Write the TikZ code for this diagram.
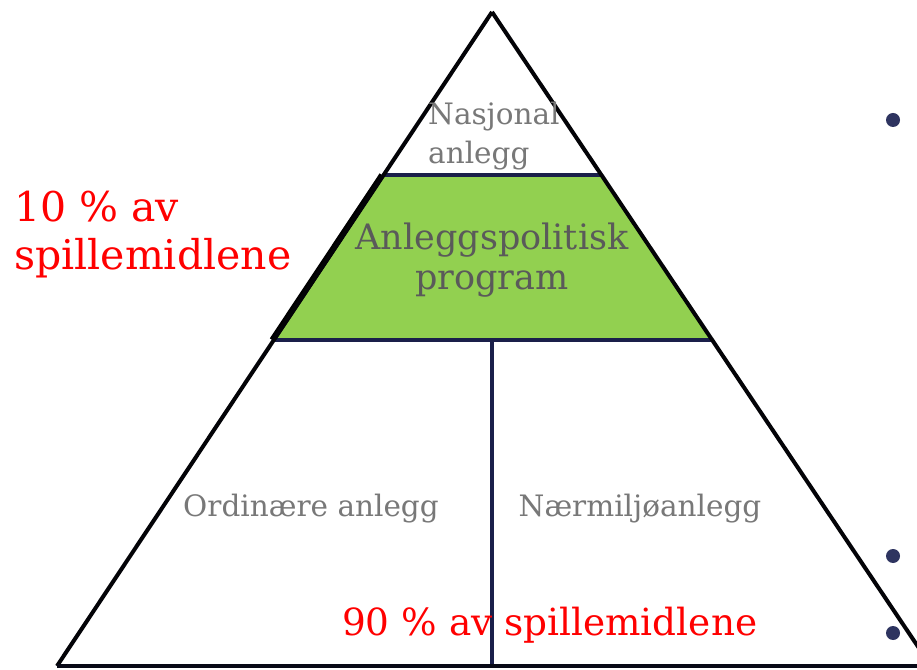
\documentclass[tikz,border=0pt]{standalone}
\usepackage{fontspec}
\setmainfont{DejaVu Serif}
\usetikzlibrary{calc}
\definecolor{navy}{HTML}{1A1F4A}
\definecolor{lvlgreen}{HTML}{92D050}
\definecolor{bulletc}{HTML}{2E3460}
\definecolor{graytxt}{HTML}{787878}
\definecolor{darkgraytxt}{HTML}{5A5A5A}
\tikzset{
  edge/.style={draw=black!90!navy, line width=4pt, line join=round},
  divider/.style={draw=navy, line width=4pt},
  lbl/.style={text=graytxt, inner sep=0pt},
  redlbl/.style={text=red, inner sep=0pt, anchor=base west},
  bulletdot/.style={circle, fill=bulletc, minimum size=14pt, inner sep=0pt}
}
\begin{document}
\begin{tikzpicture}[x=1pt,y=1pt]
\useasboundingbox (0,0) rectangle (917,669);
\clip (0,0) rectangle (917,669);
\fill[white] (0,0) rectangle (917,669);
% corners
\coordinate (apex) at (492,657);
\coordinate (bl) at (57,3);
\coordinate (br) at (931,3);
\coordinate (gtl) at (383.6,494);
\coordinate (gtr) at (601.5,494);
\coordinate (gbl) at (273.8,329);
\coordinate (gbr) at (712.4,329);
\coordinate (mtop) at (492,329);
\coordinate (mbot) at (492,3);
% green band
\fill[lvlgreen] (gtl) -- (gtr) -- (gbr) -- (gbl) -- cycle;
\draw[divider] (gtl) -- (gtr);
\draw[divider] (gbl) -- (gbr);
\draw[divider] (mtop) -- (mbot);
\draw[black, line width=6pt] ($(gtl)+(-1.5,0)$) -- ($(gbl)+(-1.5,0)$);
% outline
\draw[edge] (apex) -- (bl);
\draw[edge] (apex) -- (br);
\draw[draw=black!70!navy, line width=4pt] (bl) -- (917,3);
% labels
\node[lbl, anchor=base west, font=\fontsize{29.5}{36}\selectfont] (nasj1) at (428,544) {Nasjonal};
\node[lbl, anchor=base west, font=\fontsize{29.5}{36}\selectfont] (nasj2) at (428,505) {anlegg};
\node[lbl, text=darkgraytxt, anchor=base, font=\fontsize{35}{40}\selectfont] (anlp1) at (492,419) {Anleggspolitisk};
\node[lbl, text=darkgraytxt, anchor=base, font=\fontsize{35}{40}\selectfont] (anlp2) at (492,379) {program};
\node[lbl, anchor=base, font=\fontsize{29.5}{36}\selectfont] (ord) at (311,152) {Ordinære anlegg};
\node[lbl, anchor=base, font=\fontsize{29.5}{36}\selectfont] (naer) at (640,152) {Nærmiljøanlegg};
\node[redlbl, font=\fontsize{41}{48}\selectfont] (ten1) at (14,447) {10 \% av};
\node[redlbl, font=\fontsize{41}{48}\selectfont] (ten2) at (14,399) {spillemidlene};
\node[redlbl, font=\fontsize{37.4}{44}\selectfont] (ninety) at (342,34) {90 \% av spillemidlene};
% bullets
\node[bulletdot] (b1) at (893,549) {};
\node[bulletdot] (b2) at (893,113) {};
\node[bulletdot] (b3) at (893,36) {};
\end{tikzpicture}
\end{document}
